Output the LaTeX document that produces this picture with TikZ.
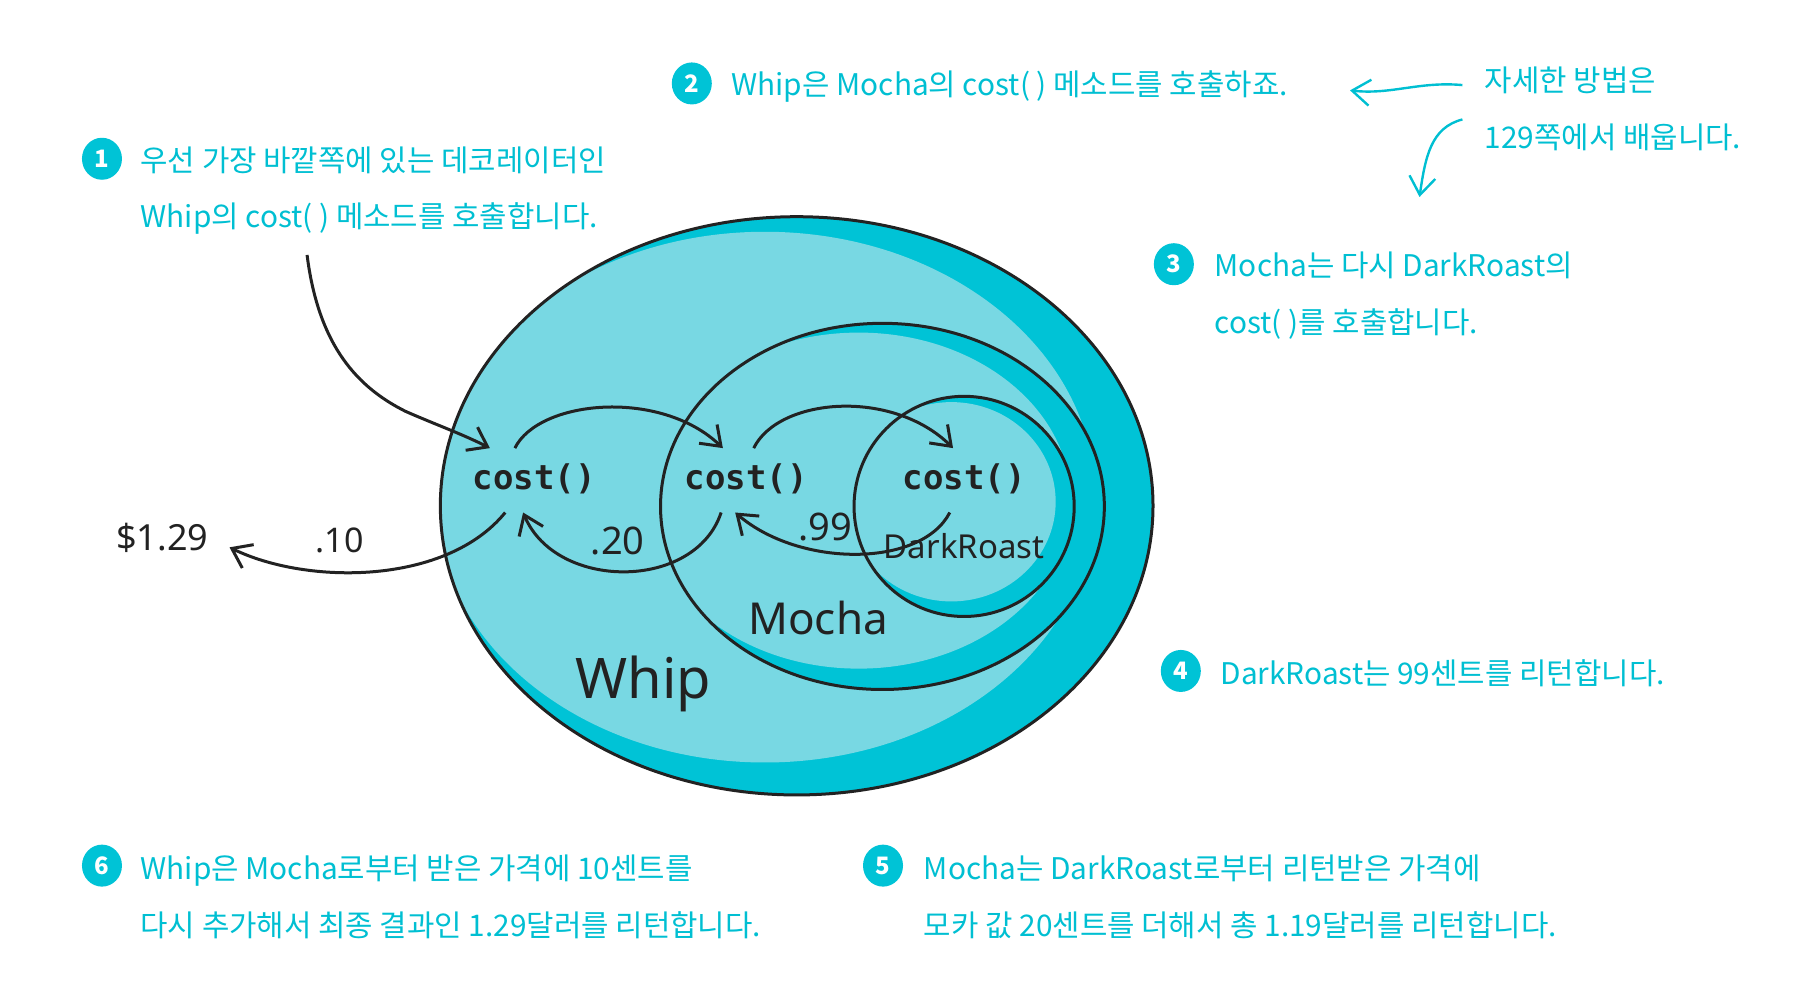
\documentclass[tikz,border=0pt]{standalone}
\usepackage{fontspec}
\setmainfont{Noto Sans CJK KR}
\newfontfamily\handfont{Noto Sans}
\newfontfamily\codefont{DejaVu Sans Mono}
\usetikzlibrary{arrows.meta,shapes.geometric}
\definecolor{cDeep}{HTML}{00C3D6}
\definecolor{cPale}{HTML}{78D8E3}
\definecolor{cNote}{HTML}{00BFD2}
\definecolor{cInk}{HTML}{222222}
\tikzset{
  every picture/.style={line width=1.5pt},
  numdot/.style={ellipse, fill=cDeep, text=white, inner sep=0pt, minimum width=20pt,
                 minimum height=21pt, font=\fontsize{12}{12}\selectfont\bfseries},
  note/.style={anchor=west, align=left, inner sep=0pt, text=cNote,
               font=\fontsize{14.9}{28.4}\selectfont},
  code/.style={anchor=base, font=\fontsize{17}{18}\selectfont\codefont\bfseries, text=cInk,
               inner sep=0pt, text height=19.7pt, text depth=11pt},
  hand/.style={font=\handfont, text=cInk, inner sep=0pt},
  flow/.style={-{Straight Barb[length=9pt,width=13pt,line width=1.5pt]}, draw=cInk},
  nflow/.style={-{Straight Barb[length=9pt,width=13pt,line width=1.2pt]}, draw=cNote, line width=1.2pt},
  ring/.style={draw=cInk},
}

\begin{document}
\begin{tikzpicture}[x=0.5794pt,y=-0.5794pt]
\useasboundingbox (0,0) rectangle (1568,863);

% ================================================== the three wrappers
\begin{scope}
  \clip (687.5,436.5) ellipse [x radius=307.5, y radius=249.5];
  \fill[cDeep] (687.5,436.5) ellipse [x radius=307.5, y radius=249.5];
  \fill[cPale] (660,429) ellipse [x radius=285, y radius=229];
\end{scope}
\begin{scope}
  \clip (761.5,437) ellipse [x radius=191.5, y radius=158];
  \fill[cDeep] (761.5,437) ellipse [x radius=191.5, y radius=158];
  \fill[cPale] (741,432) ellipse [x radius=183, y radius=145];
\end{scope}
\begin{scope}
  \clip (832,437) ellipse [x radius=95, y radius=95];
  \fill[cDeep] (832,437) ellipse [x radius=95, y radius=95];
  \fill[cPale] (821,433) ellipse [x radius=90, y radius=86];
\end{scope}
\draw[ring] (687.5,436.5) ellipse [x radius=307.5, y radius=249.5];
\draw[ring] (761.5,437) ellipse [x radius=191.5, y radius=158];
\draw[ring] (832,437) ellipse [x radius=95, y radius=95];

% ================================================== labels inside
\node[code] (costA) at (461,422) {cost()};
\node[code] (costB) at (644,422) {cost()};
\node[code] (costC) at (832,422) {cost()};
\node[hand, font=\fontsize{16.5}{18}\selectfont\handfont] (roast) at (832,471) {DarkRoast};
\node[hand, font=\fontsize{22}{24}\selectfont\handfont] (mocha) at (706,533) {Mocha};
\node[hand, font=\fontsize{28}{30}\selectfont\handfont] (whip) at (555,590) {Whip};
\node[hand, font=\fontsize{18}{20}\selectfont\handfont] (price) at (140,464) {\$1.29};
\node[hand, font=\fontsize{17}{18}\selectfont\handfont] (tenc) at (293,466) {.10};
\node[hand, font=\fontsize{19}{20}\selectfont\handfont] (twenty) at (533,467) {.20};
\node[hand, font=\fontsize{19}{20}\selectfont\handfont] (ninety) at (712,455) {.99};

% ================================================== the notes
\node[numdot] (numA) at (88,137) {1};
\node[note] (noteA) at (120,164.5) {우선 가장 바깥쪽에 있는 데코레이터인\\Whip의 cost( ) 메소드를 호출합니다.};
\node[numdot] (numB) at (597,72) {2};
\node[note] (noteB) at (630,75) {Whip은 Mocha의 cost( ) 메소드를 호출하죠.};
\node[note, inner xsep=10.4pt] (noteSide) at (1262,94) {자세한 방법은\\129쪽에서 배웁니다.};
\node[numdot] (numC) at (1013,228) {3};
\node[note] (noteC) at (1047,255) {Mocha는 다시 DarkRoast의\\cost( )를 호출합니다.};
\node[numdot] (numD) at (1019,579) {4};
\node[note] (noteD) at (1052,581) {DarkRoast는 99센트를 리턴합니다.};
\node[numdot] (numE) at (762,747) {5};
\node[note] (noteE) at (796,774) {Mocha는 DarkRoast로부터 리턴받은 가격에\\모카 값 20센트를 더해서 총 1.19달러를 리턴합니다.};
\node[numdot] (numF) at (88,747) {6};
\node[note] (noteF) at (120,774) {Whip은 Mocha로부터 받은 가격에 10센트를\\다시 추가해서 최종 결과인 1.29달러를 리턴합니다.};

% ================================================== calls and returns
\coordinate (startA) at (265,220);
\coordinate (tipB) at (1165,78);
\coordinate (tipC) at (1225,170);

\draw[flow] (startA) .. controls (275,300) and (310,335) .. (350,355)
            .. controls (375,366) and (400,375) .. (costA.144);
\draw[flow] (costA.121) .. controls (465,345) and (570,335) .. (costB.126);
\draw[flow] (costB.77) .. controls (672,343) and (770,335) .. (costC.109);
\draw[flow] (costC.-114) .. controls (795,490) and (690,490) .. (costB.-109);
\draw[flow] (costB.-128) .. controls (600,510) and (480,510) .. (costA.-109);
\draw[flow, shorten >=11pt] (costA.-132) .. controls (385,505) and (265,505) .. (price.east);
\draw[nflow] (noteSide.171) .. controls (1225,70) and (1200,82) .. (tipB);
\draw[nflow] (noteSide.184) .. controls (1235,110) and (1230,135) .. (tipC);

\end{tikzpicture}
\end{document}
